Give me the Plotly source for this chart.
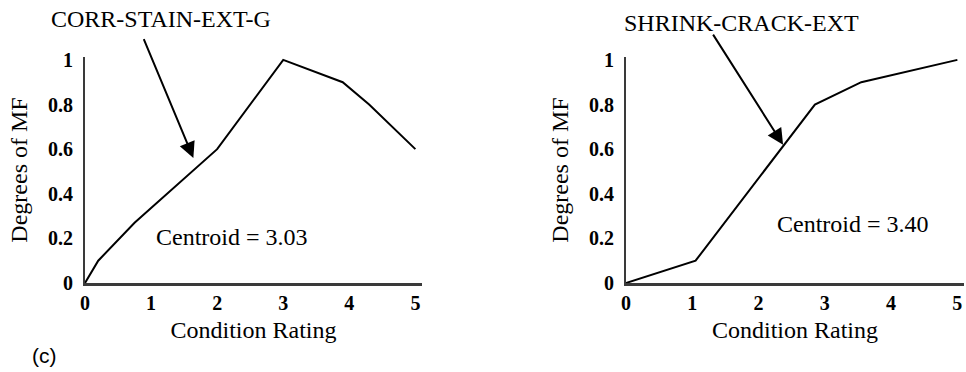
import plotly.graph_objects as go

# Data
left_x = [0, 0.2, 0.75, 2.0, 3.0, 3.9, 4.3, 5.0]
left_y = [0, 0.1, 0.27, 0.6, 1.0, 0.9, 0.8, 0.6]
right_x = [0, 1.05, 2.85, 3.55, 5.0]
right_y = [0, 0.1, 0.8, 0.9, 1.0]

left_label = "CORR-STAIN-EXT-G"
right_label = "SHRINK-CRACK-EXT"
left_centroid = "Centroid = 3.03"
right_centroid = "Centroid = 3.40"

x_ticks = [0, 1, 2, 3, 4, 5]
y_ticks = [0, 0.2, 0.4, 0.6, 0.8, 1]
y_tick_text = ["0", "0.2", "0.4", "0.6", "0.8", "1"]

W, H = 966, 372
SERIF = "Liberation Serif, Times New Roman, serif"
TXT = 24
TICK = 20

fig = go.Figure()
fig.add_trace(go.Scatter(x=left_x, y=left_y, mode="lines",
                         line=dict(color="black", width=2), xaxis="x", yaxis="y",
                         showlegend=False))
fig.add_trace(go.Scatter(x=right_x, y=right_y, mode="lines",
                         line=dict(color="black", width=2), xaxis="x2", yaxis="y2",
                         showlegend=False))

ydom = [(372 - 283) / H, (372 - 57) / H]

def xaxis(dom, anchor):
    return dict(domain=dom, range=[0, 5.1], showgrid=False, zeroline=False,
                showline=True, linecolor="#3a3a3a", linewidth=3, anchor=anchor,
                tickvals=x_ticks, ticks="", automargin=False,
                tickfont=dict(family=SERIF, size=TICK, color="black", weight="bold"),
                title=dict(text="Condition Rating", font=dict(family=SERIF, size=TXT, color="black"),
                           standoff=9),
                fixedrange=True)

def yaxis(anchor):
    return dict(domain=ydom, range=[0, 1.013], showgrid=False, zeroline=False,
                showline=True, linecolor="#3a3a3a", linewidth=2, anchor=anchor,
                tickvals=y_ticks, ticktext=y_tick_text, ticks="", automargin=False,
                ticklabelstandoff=6,
                tickfont=dict(family=SERIF, size=TICK, color="black", weight="bold"),
                title=dict(text="Degrees of MF", font=dict(family=SERIF, size=TXT, color="black"),
                           standoff=14),
                fixedrange=True)

fig.update_layout(
    width=W, height=H,
    margin=dict(l=0, r=0, t=0, b=0, pad=0, autoexpand=False),
    paper_bgcolor="white", plot_bgcolor="white",
    xaxis=xaxis([85 / W, 422 / W], "y"),
    yaxis=yaxis("x"),
    xaxis2=xaxis([626 / W, 964 / W], "y2"),
    yaxis2=yaxis("x2"),
)

def px(xp, yp):
    return dict(x=xp / W, y=1 - yp / H, xref="paper", yref="paper",
                xanchor="center", yanchor="middle")

annos = [
    # left arrow
    dict(x=1.64, y=0.56, ax=0.88, ay=1.10, xref="x", yref="y", axref="x", ayref="y",
         text="", showarrow=True, arrowhead=2, arrowsize=1.6, arrowwidth=2, arrowcolor="black"),
    dict(**px(161, 19), text=left_label, showarrow=False,
         font=dict(family=SERIF, size=TXT, color="black")),
    dict(x=2.23, y=0.206, xref="x", yref="y", text=left_centroid, showarrow=False,
         font=dict(family=SERIF, size=TXT, color="black")),
    # right arrow
    dict(x=2.37, y=0.62, ax=1.30, ay=1.12, xref="x2", yref="y2", axref="x2", ayref="y2",
         text="", showarrow=True, arrowhead=2, arrowsize=1.6, arrowwidth=2, arrowcolor="black"),
    dict(**px(741, 23), text=right_label, showarrow=False,
         font=dict(family=SERIF, size=TXT, color="black")),
    dict(x=3.43, y=0.265, xref="x2", yref="y2", text=right_centroid, showarrow=False,
         font=dict(family=SERIF, size=TXT, color="black")),
    dict(**px(44, 355), text="(c)", showarrow=False,
         font=dict(family="Liberation Sans, Arial, sans-serif", size=21, color="black")),
]
fig.update_layout(annotations=annos)

fig.write_html("out.html", config={"displayModeBar": False})
